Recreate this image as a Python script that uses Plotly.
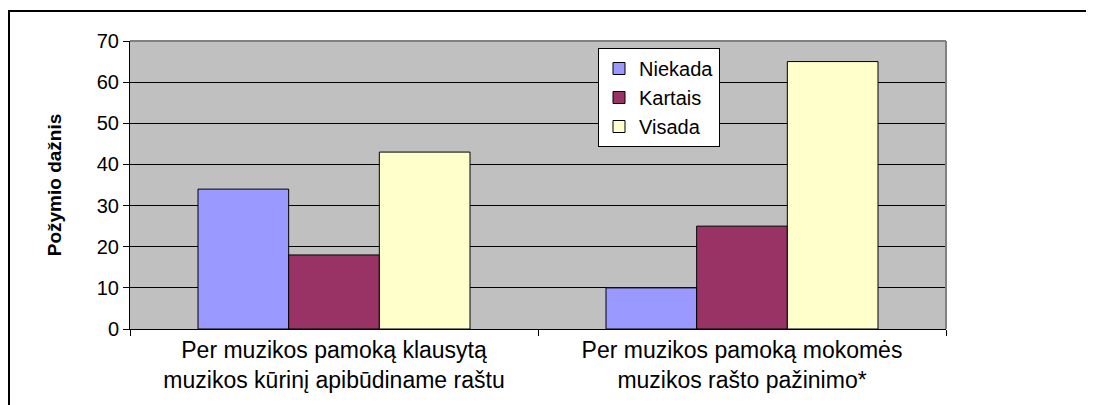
import plotly.graph_objects as go

categories = [
    "Per muzikos pamoką klausytą<br>muzikos kūrinį apibūdiname raštu",
    "Per muzikos pamoką mokomės<br>muzikos rašto pažinimo*",
]
series_names = ["Niekada", "Kartais", "Visada"]
niekada = [34, 10]
kartais = [18, 25]
visada = [43, 65]
colors = ["#9999FF", "#993366", "#FFFFCC"]
y_ticks = [0, 10, 20, 30, 40, 50, 60, 70]

fig = go.Figure()
for name, vals, col in zip(series_names, [niekada, kartais, visada], colors):
    fig.add_trace(go.Bar(
        name=name,
        x=categories,
        y=vals,
        marker=dict(color=col, line=dict(color="black", width=1)),
    ))

font = "Liberation Sans, Arial, sans-serif"

# page has an 8px body margin, so the figure is placed 8px in from the top-left
fig.update_layout(
    width=1094,
    height=405,
    margin=dict(l=122, r=156, t=33, b=84),
    paper_bgcolor="white",
    plot_bgcolor="#C0C0C0",
    barmode="group",
    bargap=1 / 3,
    bargroupgap=0,
    font=dict(family=font, color="black"),
    legend=dict(
        x=(598 - 130) / 816, y=(329 - 48) / 288, xanchor="left", yanchor="top",
        bgcolor="white", bordercolor="black", borderwidth=1,
        font=dict(size=20, family=font),
    ),
    xaxis=dict(
        showline=True, linecolor="black", linewidth=1,
        ticks="outside", tickson="boundaries", ticklen=6, tickcolor="black",
        tickfont=dict(size=23, family=font),
        showgrid=False,
    ),
    yaxis=dict(
        range=[0, 70], tickvals=y_ticks,
        showline=True, linecolor="black", linewidth=1,
        ticks="outside", ticklen=6, tickcolor="black",
        tickfont=dict(size=20, family=font),
        showgrid=True, gridcolor="black", gridwidth=1,
        zeroline=False,
        title=dict(text="<b>Požymio dažnis</b>", font=dict(size=19, family=font), standoff=30),
    ),
    shapes=[
        dict(type="line", xref="paper", yref="paper", x0=0, x1=1, y0=1, y1=1,
             line=dict(color="#808080", width=2)),
        dict(type="line", xref="paper", yref="paper", x0=1, x1=1, y0=0, y1=1,
             line=dict(color="#808080", width=2)),
        dict(type="rect", xref="paper", yref="paper",
             x0=(1 - 122) / 816, x1=1.3, y0=(321 - 3) / 288, y1=-0.5,
             line=dict(color="black", width=2)),
    ],
)

fig.write_html("out.html")
